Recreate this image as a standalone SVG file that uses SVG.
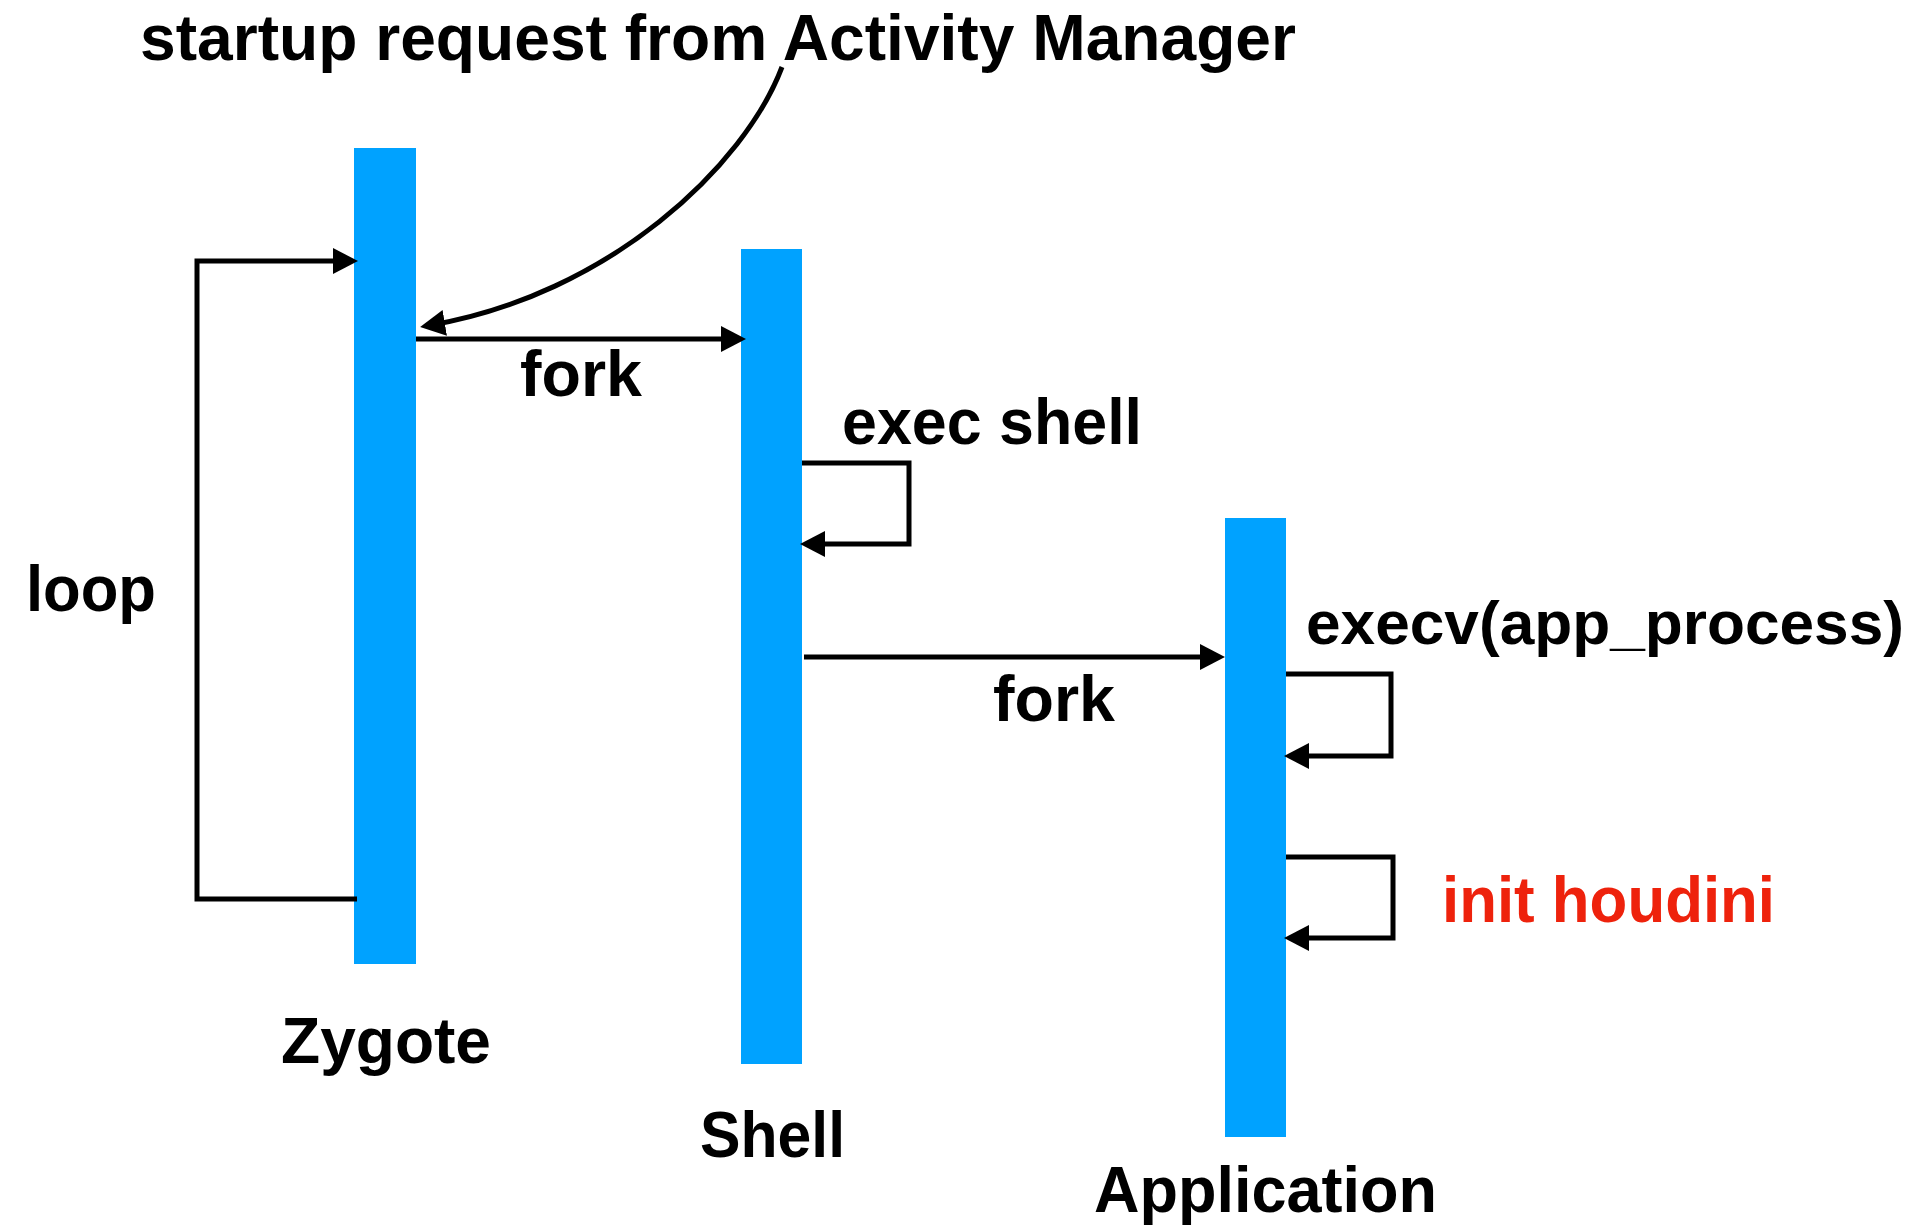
<svg xmlns="http://www.w3.org/2000/svg" width="1917" height="1226" viewBox="0 0 1917 1226">
<style>
.bar{fill:#00A2FF}
.lbl{font-family:"Liberation Sans",Arial,sans-serif;font-weight:bold;font-size:64px;fill:#000}
.red{fill:#EE220C}
.conn{fill:none;stroke:#000;stroke-width:5;stroke-linejoin:miter}
</style>
<defs>
<marker id="ah" markerUnits="userSpaceOnUse" markerWidth="26" markerHeight="26" refX="17" refY="13" orient="auto" viewBox="0 0 26 26">
<path d="M0,0 L25,13 L0,26 z" fill="#000"/>
</marker>
</defs>
<rect width="1917" height="1226" fill="#fff"/>
<g id="zygote">
<rect class="bar" x="354" y="148" width="62" height="816"/>
<text class="lbl" x="281" y="1063" textLength="210" lengthAdjust="spacingAndGlyphs">Zygote</text>
</g>
<g id="shell">
<rect class="bar" x="741" y="249" width="61" height="815"/>
<text class="lbl" x="700" y="1157" textLength="145" lengthAdjust="spacingAndGlyphs">Shell</text>
</g>
<g id="application">
<rect class="bar" x="1225" y="518" width="61" height="619"/>
<text class="lbl" x="1094" y="1212" textLength="343" lengthAdjust="spacingAndGlyphs">Application</text>
</g>
<g id="title">
<text class="lbl" x="140" y="60" textLength="1156" lengthAdjust="spacingAndGlyphs">startup request from Activity Manager</text>
</g>
<g id="connectors">
<path class="conn" d="M357 899 H197 V261 H350" marker-end="url(#ah)"/>
<path class="conn" d="M416 339 H738" marker-end="url(#ah)"/>
<path class="conn" d="M782 67 C745 165 610 295 428 325.7" marker-end="url(#ah)"/>
<path class="conn" d="M802 463 H909 V544 H808" marker-end="url(#ah)"/>
<path class="conn" d="M804 657 H1217" marker-end="url(#ah)"/>
<path class="conn" d="M1286 674 H1391 V756 H1292" marker-end="url(#ah)"/>
<path class="conn" d="M1286 857 H1393 V938 H1292" marker-end="url(#ah)"/>
<text class="lbl" x="26" y="611" textLength="130" lengthAdjust="spacingAndGlyphs">loop</text>
<text class="lbl" x="520" y="396" textLength="122" lengthAdjust="spacingAndGlyphs">fork</text>
<text class="lbl" x="842" y="444" textLength="300" lengthAdjust="spacingAndGlyphs">exec shell</text>
<text class="lbl" x="993" y="721" textLength="122" lengthAdjust="spacingAndGlyphs">fork</text>
<text class="lbl" x="1306" y="644" style="font-size:62px" textLength="598" lengthAdjust="spacingAndGlyphs">execv(app_process)</text>
<text class="lbl red" x="1442" y="922" textLength="333" lengthAdjust="spacingAndGlyphs">init houdini</text>
</g>
</svg>
